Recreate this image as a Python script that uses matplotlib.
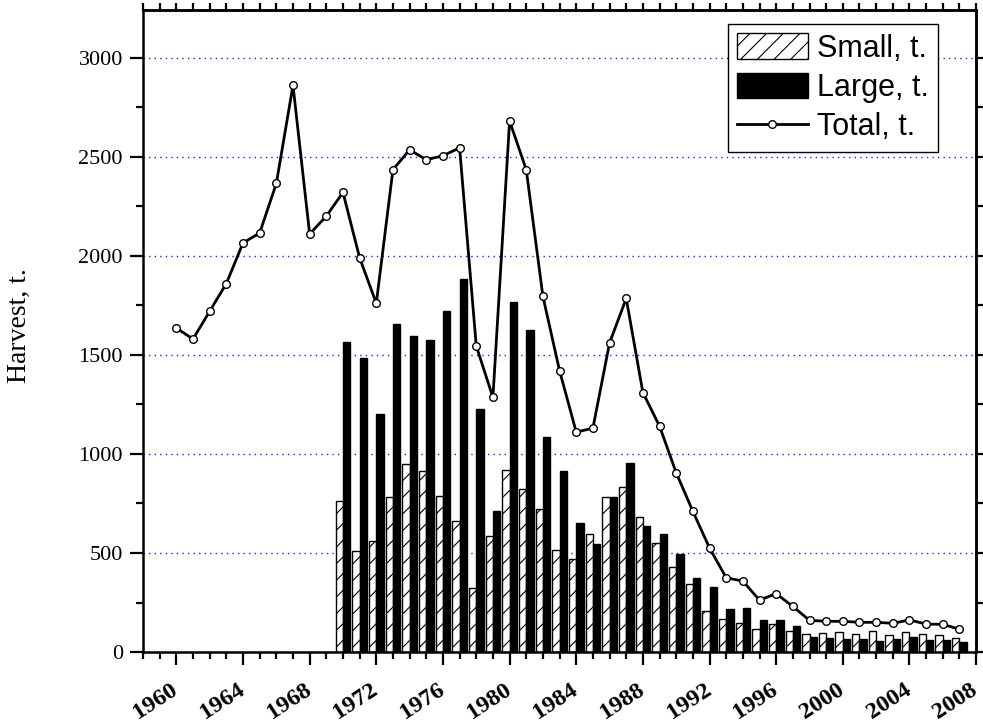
import numpy as np
import matplotlib.pyplot as plt
import matplotlib.transforms as mtransforms
from matplotlib.ticker import MultipleLocator
from matplotlib.patches import Patch
from matplotlib.lines import Line2D

# Harvest data
years_total = list(range(1960, 2008))
total = [1635, 1580, 1720, 1860, 2065, 2115, 2365, 2860, 2110, 2200,
         2320, 1990, 1760, 2435, 2535, 2485, 2505, 2545, 1545, 1285,
         2680, 2435, 1795, 1420, 1110, 1130, 1560, 1785, 1310, 1140,
         905, 710, 525, 375, 358, 262, 295, 230, 160, 155,
         155, 150, 150, 145, 162, 141, 140, 115]

years_bars = list(range(1970, 2008))
small = [764, 510, 560, 785, 951, 914, 786, 663, 322, 584,
         921, 822, 720, 517, 470, 594, 783, 835, 680, 550,
         428, 345, 205, 165, 145, 115, 143, 106, 91, 94,
         101, 91, 104, 86, 99, 89, 86, 69]
large = [1564, 1485, 1204, 1655, 1593, 1576, 1722, 1884, 1229, 710,
         1766, 1623, 1086, 914, 650, 545, 784, 954, 638, 596,
         493, 375, 328, 219, 220, 162, 162, 131, 77, 71,
         66, 66, 56, 66, 74, 62, 61, 52]

plt.rcParams['hatch.linewidth'] = 0.8

fig = plt.figure(figsize=(9.83, 7.24), dpi=100)
ax = fig.add_axes([0.1455, 0.0994, 0.8475, 0.8866])

w = 0.44
xb = np.array(years_bars)
ax.bar(xb - w / 2, small, width=w, color='white', edgecolor='black',
       linewidth=1.0, hatch='//', zorder=2)
ax.bar(xb + w / 2, large, width=w, color='black', edgecolor='black',
       linewidth=1.0, zorder=2)
ax.plot(years_total, total, color='black', lw=2.0, marker='o', ms=5.5,
        mfc='white', mec='black', mew=1.0, zorder=3)

ax.set_xlim(1958, 2008)
ax.set_ylim(0, 3240)
ax.xaxis.set_major_locator(MultipleLocator(4))
ax.xaxis.set_minor_locator(MultipleLocator(1))
ax.yaxis.set_major_locator(MultipleLocator(500))
ax.yaxis.set_minor_locator(MultipleLocator(250))

for yv in range(500, 3001, 500):
    ax.axhline(yv, color='#2020ff', ls=(0, (1, 3)), lw=1.0, zorder=1)

for s in ax.spines.values():
    s.set_linewidth(1.8)

ax.tick_params(which='major', direction='out', length=9.5, width=1.6, pad=5)
ax.tick_params(which='minor', direction='out', length=5, width=1.6)
ax.tick_params(axis='x', which='major', pad=10)

for lab in ax.get_yticklabels():
    lab.set_fontfamily('Liberation Serif')
    lab.set_fontsize(16)
ax.set_xticks(ax.get_xticks())
ax.set_xticklabels([str(int(t)) for t in ax.get_xticks()],
                   fontfamily='Liberation Serif', fontsize=17.5, fontweight='bold',
                   rotation=33, ha='right', va='top', rotation_mode='anchor')
ax.set_xlim(1958, 2008)
shift = mtransforms.ScaledTranslation(-6 / 100, 0, fig.dpi_scale_trans)
for lab in ax.get_xticklabels():
    lab.set_transform(lab.get_transform() + shift)

sx = ax.secondary_xaxis('top')
sx.set_xticks(range(1958, 2009))
sx.tick_params(direction='out', length=5, width=1.6, labeltop=False)
sx.spines['top'].set_linewidth(1.8)
sy = ax.secondary_yaxis('right')
sy.set_yticks(range(0, 3241, 250))
sy.tick_params(direction='out', length=5, width=1.6, labelright=False)
sy.spines['right'].set_linewidth(1.8)

ax.set_ylabel('Harvest, t.', fontfamily='Liberation Serif', fontsize=20)
ax.yaxis.set_label_coords(-0.133, 0.508)

handles = [Patch(facecolor='white', edgecolor='black', hatch='//', lw=1.0),
           Patch(facecolor='black', edgecolor='black'),
           Line2D([], [], color='black', lw=2.0, marker='o', ms=5.5,
                  mfc='white', mec='black')]
leg = ax.legend(handles, ['Small, t.', 'Large, t.', 'Total, t.'],
                loc='upper right', bbox_to_anchor=(0.954, 0.978),
                borderaxespad=0, fancybox=False, framealpha=1,
                edgecolor='black', handlelength=2.3, handleheight=0.9,
                handletextpad=0.3, labelspacing=0.3, borderpad=0.3,
                prop={'family': 'Liberation Sans', 'size': 22})
leg.get_frame().set_linewidth(1.0)

fig.savefig('out.png', dpi=100)
